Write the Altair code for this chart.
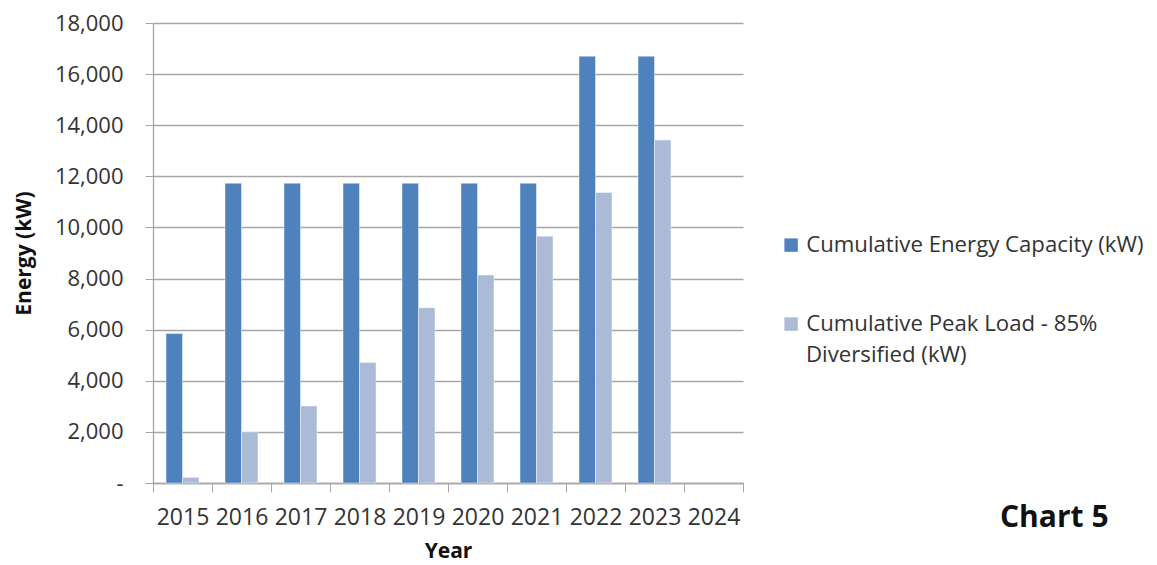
import altair as alt
import pandas as pd

years = ["2015", "2016", "2017", "2018", "2019", "2020", "2021", "2022", "2023", "2024"]
capacity = [5850, 11730, 11730, 11730, 11730, 11730, 11730, 16700, 16700, None]
peak = [220, 2000, 3010, 4720, 6860, 8140, 9660, 11370, 13420, None]
series = ["Cumulative Energy Capacity (kW)", "Cumulative Peak Load - 85% Diversified (kW)"]
legend_line1 = "Cumulative Peak Load - 85%"
legend_line2 = "Diversified (kW)"
colors = ["#4f81bd", "#aabad7"]
y_ticks = [0, 2000, 4000, 6000, 8000, 10000, 12000, 14000, 16000, 18000]
note = "Chart 5"

rows = []
for i, yr in enumerate(years):
    rows.append({"Year": yr, "Series": series[0], "Energy": capacity[i]})
    rows.append({"Year": yr, "Series": series[1], "Energy": peak[i]})
df = pd.DataFrame(rows)

FONT = "Open Sans"
GRID = "#a6a6a6"
LEG_FS = 22.2

bars = alt.Chart(df).mark_bar(stroke="#ffffff", strokeWidth=0.6, strokeOpacity=0.7).encode(
    x=alt.X("Year:N",
            scale=alt.Scale(domain=years, paddingInner=0, paddingOuter=0),
            axis=alt.Axis(title="Year", labelAngle=0, tickBand="extent",
                          tickSize=9, tickColor=GRID, domainColor=GRID, domainWidth=1.3,
                          labelFont=FONT, labelFontSize=23, labelColor="#333333",
                          labelPadding=14,
                          titleFont=FONT, titleFontSize=21, titleFontWeight="bold",
                          titleColor="#111111", titleY=68, titleBaseline="middle")),
    xOffset=alt.XOffset("Series:N",
                        scale=alt.Scale(domain=series, paddingInner=0, paddingOuter=0.79)),
    y=alt.Y("Energy:Q",
            scale=alt.Scale(domain=[0, 18000], nice=False),
            axis=alt.Axis(title="Energy (kW)", values=y_ticks,
                          labelExpr="datum.value == 0 ? '-\u00a0\u00a0' : format(datum.value, ',')",
                          tickSize=8, tickColor=GRID, domainColor=GRID, domainWidth=1.3,
                          gridColor=GRID, gridWidth=1.3,
                          labelFont=FONT, labelFontSize=22, labelColor="#333333",
                          labelPadding=22,
                          titleFont=FONT, titleFontSize=21, titleFontWeight="bold",
                          titleColor="#111111", titleX=-129, titleY=230,
                          titleAngle=270, titleAlign="center", titleBaseline="middle")),
    color=alt.Color("Series:N",
                    scale=alt.Scale(domain=series, range=colors),
                    legend=alt.Legend(title=None, orient="none", legendX=627, legendY=211,
                                      symbolType="square", symbolSize=180, symbolStrokeWidth=0,
                                      labelFont=FONT, labelFontSize=LEG_FS, labelColor="#333333",
                                      labelLimit=600, labelOffset=4, rowPadding=56,
                                      labelExpr=f"datum.label == '{series[1]}' ? '{legend_line1}' : datum.label")),
)

legend_cont = alt.Chart(pd.DataFrame({"t": [legend_line2]})).mark_text(
    font=FONT, fontSize=LEG_FS, color="#333333", align="left", baseline="middle"
).encode(text="t:N", x=alt.value(653), y=alt.value(332))

label = alt.Chart(pd.DataFrame({"t": [note]})).mark_text(
    font=FONT, fontSize=30, fontWeight="bold", color="#111111", align="left", baseline="middle"
).encode(text="t:N", x=alt.value(847), y=alt.value(495))

chart = alt.layer(bars, legend_cont, label).properties(
    width=590, height=460,
    autosize=alt.AutoSizeParams(type="none"),
    padding={"left": 145, "top": 15, "right": 406, "bottom": 80},
).configure_view(stroke=None)

chart.save("out.html", embed_options={"renderer": "svg", "actions": False})
